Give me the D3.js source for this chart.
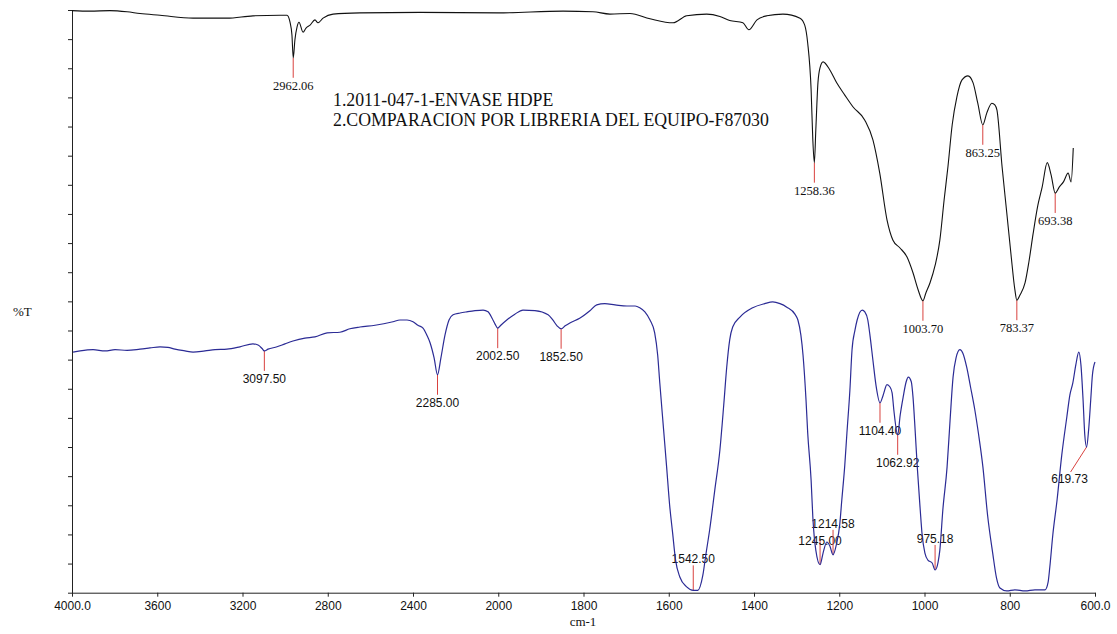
<!DOCTYPE html>
<html><head><meta charset="utf-8">
<script src="https://cdn.jsdelivr.net/npm/d3@7"></script>
<style>body{margin:0;background:#fff}svg{display:block}</style>
</head><body><svg id="c" width="1117" height="634"></svg>
<script>
// x-axis tick labels (cm-1)
const xTickValues = [4000,3600,3200,2800,2400,2000,1800,1600,1400,1200,1000,800,600];
const xTickLabels = ["4000.0","3600","3200","2800","2400","2000","1800","1600","1400","1200","1000","800","600.0"];

// Spectrum 1 (black): sample 2011-047-1 ENVASE HDPE
const topWn = [4000,3915,3822,3742,3681,3587,3432,3273,3151,3024,2991,2977,2968,2962,2954,2944,2935,2916,2902,2883,2860,2846,2822,2775,2649,2367,2000,1848,1778,1738,1691,1644,1590,1558,1511,1480,1457,1426,1412,1393,1370,1332,1292,1281,1274,1266,1262,1258.4,1255,1250,1245,1238,1222,1206,1187,1168,1140,1121,1105,1088,1074,1058,1041,1027,1015,1003.7,997,987,975,964,954,945,935,924,912,898,886,875,863.3,854,842,835,830,818,807,797,788,783.4,776,764,755,745,734,724,712,703,693.4,684,674,663,656,651];
const topT = [99.9,99.8,99.9,99.7,99.4,99.1,98.6,98.6,99.0,99.1,99.1,97.9,95.7,91.8,94.9,97.1,97.9,96.2,96.9,97.4,98.3,97.8,98.6,99.3,99.5,99.6,99.5,99.8,99.7,99.3,99.4,98.5,97.8,99.0,99.3,98.9,98.2,97.8,96.6,98.3,99.0,99.3,98.6,97.4,94.3,86.3,77.7,73.8,79.4,87.5,90.1,91.1,89.7,87.5,85.4,83.4,81.1,77.7,72.0,64.0,60.5,59.2,57.6,54.9,52.0,50.1,51.4,53.2,56.2,60.5,67.4,73.1,80.3,85.1,88.0,88.7,87.5,84.0,80.3,82.3,84.0,83.7,82.8,73.1,65.2,58.0,52.0,50.2,51.1,53.2,56.8,61.7,66.5,69.6,73.8,71.7,68.6,69.6,70.5,72.0,70.5,76.3];

// Spectrum 2 (blue): library comparison F87030
const botWn = [3995,3962,3901,3845,3798,3742,3681,3634,3587,3550,3517,3470,3432,3376,3329,3273,3212,3151,3127,3108,3097.5,3080,3038,3001,2963,2907,2860,2803,2743,2696,2649,2578,2494,2461,2428,2400,2377,2353,2335,2320,2301,2285,2269,2250,2231,2212,2179,2147,2109,2071,2048,2029,2015,2002.5,1994,1980,1961,1942,1914,1883,1872,1862,1852.5,1843,1832,1809,1785,1769,1750,1726,1698,1679,1668,1656,1644,1633,1626,1621,1612,1605,1598,1591,1584,1574,1558,1542.5,1532,1520,1513,1504,1492,1480,1471,1464,1457,1450,1433,1403,1375,1356,1339,1323,1304,1297,1290,1285,1278,1274,1266,1262,1255,1245,1238,1229,1222,1214.6,1206,1199,1194,1187,1182,1175,1170,1163,1158,1146,1140,1133,1128,1121,1114,1104.4,1097,1088,1081,1076,1072,1062.9,1057,1050,1043,1038,1031,1027,1022,1017,1010,1006,999,992,982,975.2,968,964,957,947,940,933,926,917,910,901,892,882,873,863,852,840,831,823,807,788,764,741,717,710,706,699,689,678,666,659,652,645,638,633,628,624,619.7,615,610,606,600];
const botT = [41.3,41.5,41.7,41.5,41.7,41.6,41.8,42.0,42.2,42.1,41.8,41.5,41.3,41.5,41.7,41.8,42.2,42.7,42.5,41.9,41.5,41.8,42.2,42.7,43.2,43.7,43.9,44.6,44.7,45.3,45.6,45.9,46.5,46.8,46.8,46.5,45.9,45.4,44.2,42.9,40.3,37.4,40.3,44.2,46.8,47.7,48.0,48.2,48.4,48.5,48.2,47.1,46.1,45.4,45.9,46.8,47.8,48.5,48.4,47.7,46.8,45.8,45.3,45.8,46.3,47.1,48.4,49.4,49.6,49.4,49.2,49.2,48.9,48.2,46.8,44.6,40.8,36.0,27.9,21.6,15.1,10.3,5.6,2.7,1.0,0.4,0.4,3.0,6.5,10.8,17.6,24.5,32.2,38.7,43.4,45.6,47.3,48.9,49.6,49.9,49.6,49.0,47.8,46.8,44.2,40.8,33.1,27.4,19.3,13.0,7.3,4.8,6.8,8.7,8.0,6.5,8.5,11.6,15.9,21.9,27.4,34.8,41.7,45.1,46.8,48.5,48.2,46.8,44.2,39.9,35.7,32.6,33.9,35.7,35.3,34.3,31.4,27.1,30.5,33.6,36.2,37.0,36.2,33.6,27.9,21.6,14.2,10.3,6.8,5.6,5.1,3.9,5.3,7.3,14.2,21.6,29.6,37.0,40.3,41.7,41.1,38.7,35.3,31.4,27.1,21.6,13.3,6.8,2.5,0.8,0.3,0.5,0.3,0.5,0.5,1.8,4.4,9.9,15.9,23.6,30.2,33.9,36.0,39.1,41.3,39.1,33.1,27.1,25.0,27.9,33.1,37.4,39.6];

// Peak picks
const topPeaks = [2962.06,1258.36,1003.70,863.25,783.37,693.38];
const topPeakT = [91.8,73.8,50.1,80.3,50.2,68.6];
const botPeaks = [3097.50,2285.00,2002.50,1852.50,1542.50,1245.00,1214.58,1104.40,1062.92,975.18,619.73];
const botPeakT = [41.5,37.4,45.4,45.3,0.4,4.8,6.5,32.6,27.1,3.9,25.0];
const botPeakSide = ["below","below","below","below","above","aboveLow","above","below","below","above","slant"];

const titleLines = ["1.2011-047-1-ENVASE HDPE","2.COMPARACION POR LIBRERIA DEL EQUIPO-F87030"];
const yLabel = "%T";
const xLabel = "cm-1";

const svg = d3.select("#c");
const x = d3.scaleLinear().domain([4000,2000,600]).range([72,498.25,1095]);
const y = d3.scaleLinear().domain([0,100]).range([592.7,10]);

// axes
const xAxis = d3.axisBottom(x).tickValues(xTickValues)
  .tickFormat((d,i)=>xTickLabels[i]).tickSize(4).tickSizeOuter(0).tickPadding(5);
const gx = svg.append("g").attr("transform","translate(0,592.7)").call(xAxis);
gx.selectAll("text").attr("font-family","'Liberation Sans',Arial,sans-serif").attr("font-size",12).attr("fill","#111");
gx.selectAll("line,path").attr("stroke","#222");

const yAxis = d3.axisLeft(y).tickValues(d3.range(0,101,5)).tickFormat("").tickSize(4).tickSizeOuter(0);
const gy = svg.append("g").attr("transform","translate(72,0)").call(yAxis);
gy.selectAll("line,path").attr("stroke","#222");

svg.append("text").attr("x",13).attr("y",316).text(yLabel)
  .attr("font-family","'Liberation Serif','Times New Roman',serif").attr("font-size",13).attr("fill","#111");
svg.append("text").attr("x",583).attr("y",626).attr("text-anchor","middle").text(xLabel)
  .attr("font-family","'Liberation Serif','Times New Roman',serif").attr("font-size",13).attr("fill","#111");

// title
svg.selectAll(".title").data(titleLines).enter().append("text")
  .attr("x",333).attr("y",(d,i)=>106+i*20).text(d=>d)
  .attr("font-family","'Liberation Serif','Times New Roman',serif").attr("font-size",17.8).attr("fill","#111");

// curves
const line = d3.line().x(d=>x(d.w)).y(d=>y(d.t)).curve(d3.curveMonotoneX);
const topData = topWn.map((w,i)=>({w,t:topT[i]}));
const botData = botWn.map((w,i)=>({w,t:botT[i]}));

// markers
const red = "#d9423f";
const gm = svg.append("g");
topPeaks.forEach((p,i)=>{
  const px = x(p), py = y(topPeakT[i]);
  gm.append("line").attr("x1",px).attr("x2",px).attr("y1",py).attr("y2",py+20).attr("stroke",red).attr("stroke-width",1);
  gm.append("text").attr("x",px).attr("y",py+32).attr("text-anchor","middle").text(p.toFixed(2))
    .attr("font-family","'Liberation Serif','Times New Roman',serif").attr("font-size",12.5).attr("fill","#111");
});
botPeaks.forEach((p,i)=>{
  const px = x(p), py = y(botPeakT[i]), side = botPeakSide[i];
  let x2 = px, y2, tx = px, ty;
  if (side === "below") { y2 = py+20; ty = py+32; }
  else if (side === "above") { y2 = py-25; ty = py-27; }
  else if (side === "aboveLow") { y2 = py-25; ty = py-20; }
  else { x2 = px-16; y2 = py+25; tx = px-17; ty = py+36; }
  gm.append("line").attr("x1",px).attr("x2",x2).attr("y1",py).attr("y2",y2).attr("stroke",red).attr("stroke-width",1);
  gm.append("text").attr("x",tx).attr("y",ty).attr("text-anchor","middle").text(p.toFixed(2))
    .attr("font-family","'Liberation Sans',Arial,sans-serif").attr("font-size",12).attr("fill","#111");
});

svg.append("path").datum(topData).attr("d",line).attr("fill","none").attr("stroke","#111").attr("stroke-width",1.1);
svg.append("path").datum(botData).attr("d",line).attr("fill","none").attr("stroke","#2b2b95").attr("stroke-width",1.2);
</script>
</body></html>
